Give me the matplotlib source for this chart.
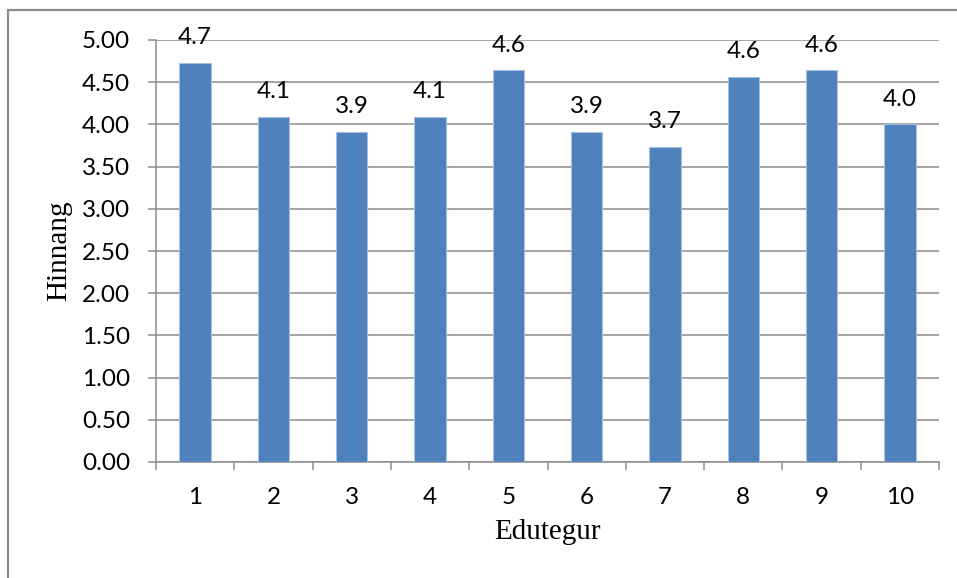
import matplotlib
matplotlib.use("Agg")
import matplotlib.pyplot as plt
from matplotlib.patches import Rectangle
from matplotlib.ticker import MultipleLocator, FixedLocator

# Mean score per lesson
categories = ["1", "2", "3", "4", "5", "6", "7", "8", "9", "10"]
scores = [4.73, 4.09, 3.91, 4.09, 4.64, 3.91, 3.73, 4.56, 4.64, 4.00]

y_ticks = [0.0, 0.5, 1.0, 1.5, 2.0, 2.5, 3.0, 3.5, 4.0, 4.5, 5.0]

W, H, DPI = 957, 578, 100
fig = plt.figure(figsize=(W / DPI, H / DPI), dpi=DPI)
ax = fig.add_axes([156 / W, 1 - 462 / H, (939 - 156) / W, (462 - 40) / H])

grey = "#8c8c8c"
bar_color = "#4f81bd"
tick_font = "Lato"
title_font = "Liberation Serif"
fs = 17.5

x = list(range(len(categories)))
bars = ax.bar(x, scores, width=0.4, color=bar_color,
              edgecolor="#a7bfe0", linewidth=0.8, zorder=3)

for xi, v in zip(x, scores):
    ax.annotate(f"{v:.1f}", xy=(xi, v), xytext=(0, 13.5),
                textcoords="offset points", ha="center", va="baseline",
                fontsize=fs, family=tick_font, color="black", zorder=4)

ax.set_xlim(-0.5, len(categories) - 0.5)
ax.set_ylim(0, 5)

ax.yaxis.set_major_locator(FixedLocator(y_ticks))
ax.set_yticklabels([f"{t:.2f}" for t in y_ticks])
ax.grid(axis="y", color=grey, linewidth=1.1, zorder=0)
ax.set_axisbelow(True)

ax.set_xticks(x)
ax.set_xticklabels(categories)
ax.xaxis.set_minor_locator(MultipleLocator(1, offset=0.5))

ax.tick_params(axis="x", which="major", length=0, pad=18)
ax.tick_params(axis="x", which="minor", length=8 * 72 / DPI, width=1.1,
               color=grey, direction="out")
ax.tick_params(axis="y", which="major", length=8 * 72 / DPI, width=1.1,
               color=grey, direction="out", pad=13)
for lab in ax.get_xticklabels() + ax.get_yticklabels():
    lab.set_fontfamily(tick_font)
    lab.set_fontsize(fs)

for side in ("top", "right"):
    ax.spines[side].set_visible(False)
for side in ("left", "bottom"):
    ax.spines[side].set_color(grey)
    ax.spines[side].set_linewidth(1.1)

ax.set_ylabel("Hinnang", fontsize=21, family=title_font, labelpad=8)
ax.set_xlabel("Edutegur", fontsize=21, family=title_font, labelpad=8)
ax.yaxis.set_label_coords(-(156 - 72) / (939 - 156), 0.5)

# chart area border
fig.add_artist(Rectangle((8 / W, -0.05), 1.2, 1.05 - 10 / H,
                         transform=fig.transFigure, fill=False,
                         edgecolor="#8a8a8a", linewidth=1.6, clip_on=False))

fig.savefig("out.png", dpi=DPI, facecolor="white")
